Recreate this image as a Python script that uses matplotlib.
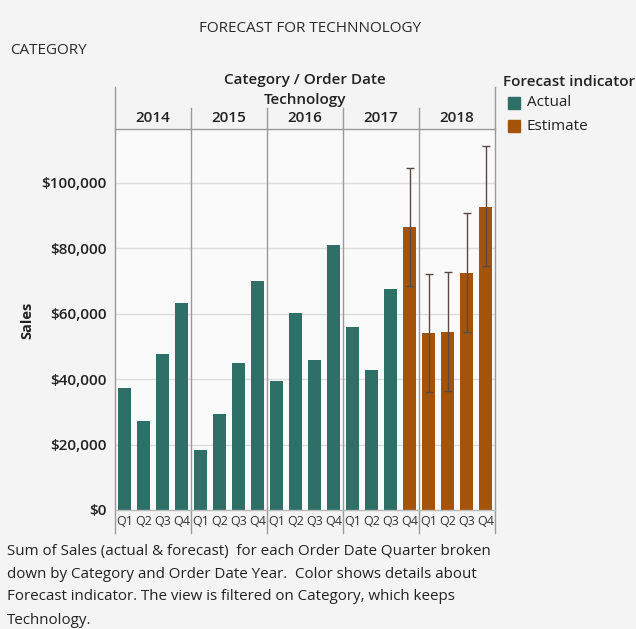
import matplotlib.pyplot as plt
import matplotlib.transforms as mtransforms
from matplotlib.patches import Rectangle
import numpy as np

# Data
YEARS    = ["2014", "2015", "2016", "2017", "2018"]
QUARTERS = ["Q1", "Q2", "Q3", "Q4"]

actual_sales = [37300, 27200, 47700, 63200,
                18300, 29400, 45000, 70000,
                39400, 60200, 45900, 81000,
                56000, 42800, 67600]
estimate_sales = [86500,
                  54100, 54400, 72500, 92700]
estimate_low   = [68500, 36100, 36400, 54400, 74600]
estimate_high  = [104600, 72200, 72800, 90800, 111300]

yticks      = [0, 20000, 40000, 60000, 80000, 100000]
ytick_names = ["$0", "$20,000", "$40,000", "$60,000", "$80,000", "$100,000"]

caption = ["Sum of Sales (actual & forecast)  for each Order Date Quarter broken",
           "down by Category and Order Date Year.  Color shows details about",
           "Forecast indicator. The view is filtered on Category, which keeps",
           "Technology."]

TEAL   = "#2e6f68"
ORANGE = "#a4530b"
FONT   = "Open Sans"

W, H = 636, 629
fig = plt.figure(figsize=(W / 100, H / 100), dpi=100, facecolor="#f4f4f4")
plt.rcParams["font.family"] = [FONT, "DejaVu Sans"]


def fx(px):
    return px / W


def fy(py):
    return 1 - py / H


ax = fig.add_axes([fx(115), fy(510), fx(495) - fx(115), fy(129) - fy(510)])
ax.set_facecolor("#fafafa")

n_act = len(actual_sales)
x_act = np.arange(n_act)
x_est = np.arange(n_act, n_act + len(estimate_sales))

ax.bar(x_act, actual_sales, width=0.72, color=TEAL, zorder=2)
ax.bar(x_est, estimate_sales, width=0.72, color=ORANGE, zorder=3)
est = np.array(estimate_sales)
yerr = [est - np.array(estimate_low), np.array(estimate_high) - est]
ax.errorbar(x_est, est, yerr=yerr, fmt="none", ecolor="#5b4a44",
            elinewidth=1.0, capsize=3, capthick=1.0, zorder=4)

ax.set_xlim(-0.5, 4 * len(YEARS) - 0.5)
ax.set_ylim(0, 116500)
ax.set_yticks(yticks)
ax.set_yticklabels(ytick_names, fontsize=11, fontweight="semibold", color="#222")
ax.tick_params(axis="y", length=0, pad=6)
ax.set_xticks([])
ax.grid(axis="y", color="#dddddd", linewidth=1.0, zorder=0)
for sp in ax.spines.values():
    sp.set_visible(False)

# Rammer og skillelinjer
trans = mtransforms.blended_transform_factory(ax.transData, ax.transAxes)
for i in range(len(YEARS) + 1):
    xpos = 4 * i - 0.5
    top = 1.11 if i in (0, len(YEARS)) else 1.055
    ax.plot([xpos, xpos], [-0.06, top], transform=trans, color="#9a9a9a",
            linewidth=1.0, clip_on=False, zorder=5)
ax.plot([-0.5, 4 * len(YEARS) - 0.5], [1.0, 1.0], transform=trans,
        color="#9a9a9a", linewidth=1.0, clip_on=False, zorder=5)
ax.plot([-0.5, 4 * len(YEARS) - 0.5], [0.0, 0.0], transform=trans,
        color="#bbbbbb", linewidth=1.0, clip_on=False, zorder=5)

for i, yr in enumerate(YEARS):
    ax.text(4 * i + 1.5, 1.028, yr, transform=trans, ha="center", va="center",
            fontsize=11, fontweight="semibold", color="#222")
    for q, ql in enumerate(QUARTERS):
        ax.text(4 * i + q, -0.029, ql, transform=trans, ha="center", va="center",
                fontsize=9, color="#333")

# Overskrifter
fig.text(fx(310), fy(28), "FORECAST FOR TECHNNOLOGY", ha="center", va="center",
         fontsize=11, color="#2a2a2a")
fig.text(fx(10), fy(50), "CATEGORY", ha="left", va="center", fontsize=11, color="#2a2a2a")
fig.text(fx(305), fy(80), "Category / Order Date", ha="center", va="center",
         fontsize=11, fontweight="semibold", color="#222")
fig.text(fx(305), fy(100), "Technology", ha="center", va="center",
         fontsize=11, fontweight="semibold", color="#222")
fig.text(fx(27), fy(320), "Sales", ha="center", va="center", rotation=90,
         fontsize=10.5, fontweight="bold", color="#222")

# Legende
fig.text(fx(503), fy(82), "Forecast indicator", ha="left", va="center",
         fontsize=11, fontweight="semibold", color="#222")
for j, (lab, col) in enumerate([("Actual", TEAL), ("Estimate", ORANGE)]):
    yc = 103 + 23 * j
    fig.patches.append(Rectangle((fx(508), fy(yc + 6)), fx(12), fy(yc - 6) - fy(yc + 6),
                                 transform=fig.transFigure, color=col))
    fig.text(fx(527), fy(yc), lab, ha="left", va="center", fontsize=11, color="#222")

# Billedtekst
for k, line in enumerate(caption):
    fig.text(fx(7), fy(551 + 23 * k), line, ha="left", va="center",
             fontsize=10.9, color="#222")

fig.savefig("out.png", dpi=100, facecolor=fig.get_facecolor())
